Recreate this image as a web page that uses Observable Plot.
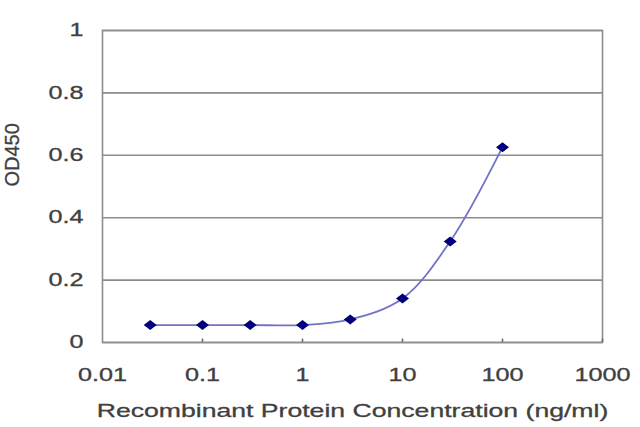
<!DOCTYPE html>
<html>
<head>
<meta charset="utf-8">
<script src="https://cdn.jsdelivr.net/npm/d3@7"></script>
<script src="https://cdn.jsdelivr.net/npm/@observablehq/plot@0.6"></script>
<style>
  html, body { margin: 0; padding: 0; background: #fff; }
  svg { display: block; }
</style>
</head>
<body>
<script>
const concentrations = [0.03, 0.1, 0.3, 1, 3, 10, 30, 100];
const od450 = [0.056, 0.056, 0.056, 0.056, 0.074, 0.141, 0.324, 0.626];
const xTicks = [0.01, 0.1, 1, 10, 100, 1000];
const xTickLabels = ["0.01", "0.1", "1", "10", "100", "1000"];
const yTicks = [0, 0.2, 0.4, 0.6, 0.8, 1];
const yTickLabels = ["0", "0.2", "0.4", "0.6", "0.8", "1"];
const xLabel = "Recombinant Protein Concentration (ng/ml)";
const yLabel = "OD450";

const data = concentrations.map((c, i) => ({c, v: od450[i]}));

const wideDiamond = {
  draw(ctx, size) {
    const s = Math.sqrt(size / Math.PI);
    ctx.moveTo(-s * 1.3, 0);
    ctx.lineTo(0, -s);
    ctx.lineTo(s * 1.3, 0);
    ctx.lineTo(0, s);
    ctx.closePath();
  }
};

const gridColor = "#8c8c8c";
const textColor = "#404040";

const chart = Plot.plot({
  width: 640,
  height: 427,
  marginLeft: 102,
  marginRight: 38,
  marginTop: 30,
  marginBottom: 85,
  style: {background: "#fff", fontFamily: "'Liberation Sans', Arial, sans-serif", color: textColor, overflow: "visible"},
  x: {type: "log", domain: [0.01, 1000], axis: null},
  y: {domain: [0, 1], axis: null},
  marks: [
    Plot.gridY(yTicks, {stroke: gridColor, strokeOpacity: 1, strokeWidth: 1.6}),
    Plot.frame({stroke: gridColor, strokeWidth: 1.6}),
    Plot.ruleX(xTicks.slice(1), {x: d => d, y1: 0, y2: 0.011, stroke: "#666", strokeWidth: 1.5}),
    Plot.text(yTicks, {
      y: d => d, frameAnchor: "left", dx: -19, textAnchor: "end", fontSize: 18, fill: textColor, lineAnchor: "middle",
      text: d => yTickLabels[yTicks.indexOf(d)]
    }),
    Plot.text(xTicks, {
      x: d => d, frameAnchor: "bottom", dy: 33, fontSize: 18, fill: textColor, lineAnchor: "middle",
      text: d => xTickLabels[xTicks.indexOf(d)]
    }),
    Plot.text([xLabel], {frameAnchor: "bottom", dy: 68, fontSize: 19, fill: textColor, lineAnchor: "middle"}),
    Plot.text([yLabel], {frameAnchor: "left", dx: -90, rotate: -90, fontSize: 20, fill: textColor, lineAnchor: "middle"}),
    Plot.line(data, {x: "c", y: "v", curve: "catmull-rom", stroke: "#7272c8", strokeWidth: 1.8}),
    Plot.dot(data, {x: "c", y: "v", symbol: wideDiamond, r: 5, fill: "#00007c", stroke: "none"})
  ]
});

document.body.append(chart);

// Horizontal stretch of the texts, as in the reference picture
chart.querySelectorAll("text").forEach(t => {
  t.setAttribute("stroke", textColor);
  t.setAttribute("stroke-width", "0.3");
  if (t.textContent === yLabel) return;
  const len = t.getComputedTextLength();
  if (len > 0) {
    t.setAttribute("textLength", (len * 1.4).toFixed(1));
    t.setAttribute("lengthAdjust", "spacingAndGlyphs");
  }
});
</script>
</body>
</html>
